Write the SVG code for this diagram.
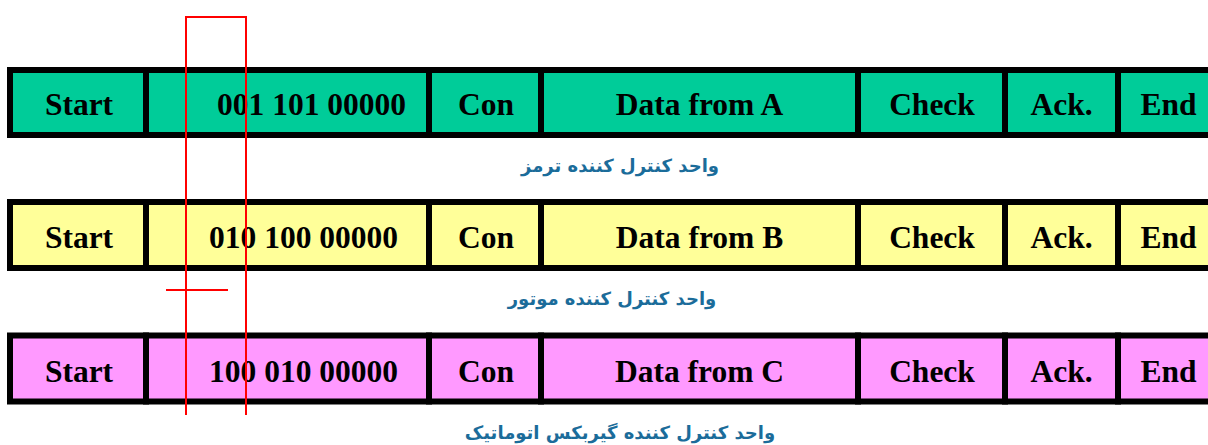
<svg xmlns="http://www.w3.org/2000/svg" width="1208" height="445" viewBox="0 0 1208 445">
<style>
.c{stroke:#000;stroke-width:6}
.g{fill:#00CC99}.y{fill:#FFFF99}.p{fill:#FF99FF}
.t{font-family:"Liberation Serif","Times New Roman",serif;font-weight:bold;font-size:31.5px;fill:#000;text-anchor:middle}
.f{font-family:"DejaVu Sans",sans-serif;font-weight:bold;font-size:18px;fill:#1B6C9A;text-anchor:middle}
.r{stroke:#FF0000;stroke-width:2;fill:none}
</style>
<g id="row1">
<rect class="c g" x="10" y="70" width="136" height="65"/>
<rect class="c g" x="146" y="70" width="283" height="65"/>
<rect class="c g" x="429" y="70" width="112" height="65"/>
<rect class="c g" x="541" y="70" width="317" height="65"/>
<rect class="c g" x="858" y="70" width="147" height="65"/>
<rect class="c g" x="1005" y="70" width="113" height="65"/>
<rect class="c g" x="1118" y="70" width="100" height="65"/>
<text class="t" x="79" y="115">Start</text>
<text class="t" x="311.5" y="115">001 101 00000</text>
<text class="t" x="486" y="115">Con</text>
<text class="t" x="699.5" y="115">Data from A</text>
<text class="t" x="932" y="115">Check</text>
<text class="t" x="1061.5" y="115">Ack.</text>
<text class="t" x="1168.5" y="115">End</text>
<text class="f" x="620" y="172">واحد کنترل کننده ترمز</text>
</g>
<g id="row2">
<rect class="c y" x="10" y="202" width="136" height="66"/>
<rect class="c y" x="146" y="202" width="283" height="66"/>
<rect class="c y" x="429" y="202" width="112" height="66"/>
<rect class="c y" x="541" y="202" width="317" height="66"/>
<rect class="c y" x="858" y="202" width="147" height="66"/>
<rect class="c y" x="1005" y="202" width="113" height="66"/>
<rect class="c y" x="1118" y="202" width="100" height="66"/>
<text class="t" x="79" y="248">Start</text>
<text class="t" x="303.5" y="248">010 100 00000</text>
<text class="t" x="486" y="248">Con</text>
<text class="t" x="699.5" y="248">Data from B</text>
<text class="t" x="932" y="248">Check</text>
<text class="t" x="1061.5" y="248">Ack.</text>
<text class="t" x="1168.5" y="248">End</text>
<text class="f" x="612" y="305">واحد کنترل کننده موتور</text>
</g>
<g id="row3">
<rect class="c p" x="10" y="335.5" width="136" height="66"/>
<rect class="c p" x="146" y="335.5" width="283" height="66"/>
<rect class="c p" x="429" y="335.5" width="112" height="66"/>
<rect class="c p" x="541" y="335.5" width="317" height="66"/>
<rect class="c p" x="858" y="335.5" width="147" height="66"/>
<rect class="c p" x="1005" y="335.5" width="113" height="66"/>
<rect class="c p" x="1118" y="335.5" width="100" height="66"/>
<text class="t" x="79" y="382">Start</text>
<text class="t" x="303.5" y="382">100 010 00000</text>
<text class="t" x="486" y="382">Con</text>
<text class="t" x="699.5" y="382">Data from C</text>
<text class="t" x="932" y="382">Check</text>
<text class="t" x="1061.5" y="382">Ack.</text>
<text class="t" x="1168.5" y="382">End</text>
<text class="f" x="620" y="439">واحد کنترل کننده گیربکس اتوماتیک</text>
</g>
<g id="connectors">
<path class="r" d="M186,415 V17 H246 V415"/>
<path class="r" d="M166,290 H228"/>
</g>
</svg>
